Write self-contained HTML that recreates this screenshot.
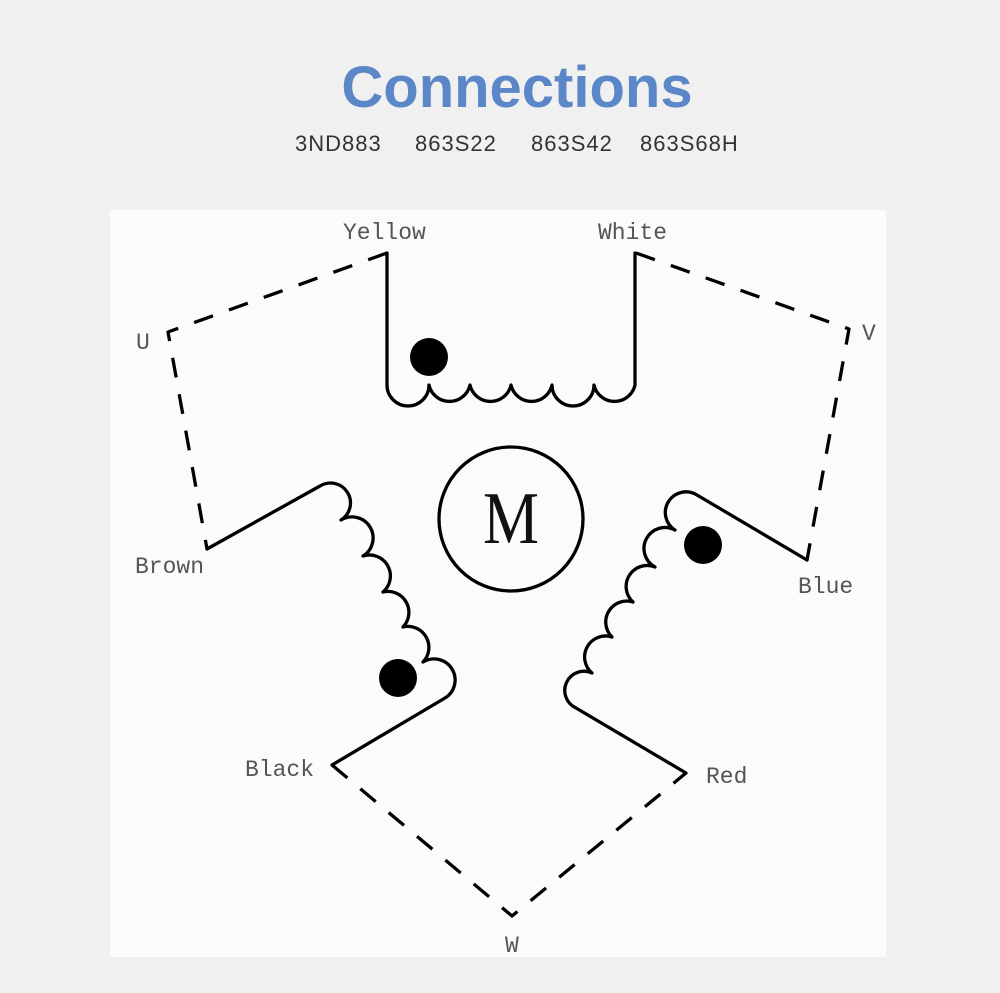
<!DOCTYPE html>
<html><head><meta charset="utf-8"><style>
html,body{margin:0;padding:0;background:#f0f0f0;width:1000px;height:993px;overflow:hidden}
.t{position:absolute;left:0;width:1034px;text-align:center;top:54px;font:bold 58px "Liberation Sans",sans-serif;color:#5b86c8}
.s{position:absolute;top:131px;font:22px "Liberation Sans",sans-serif;letter-spacing:1px;color:#333}
svg{position:absolute;left:0;top:0}
svg text{font-family:"Liberation Mono",monospace;font-size:23px;fill:#555}
</style></head><body>
<div class="t">Connections</div>
<div class="s" style="left:295px">3ND883</div>
<div class="s" style="left:415px">863S22</div>
<div class="s" style="left:531px">863S42</div>
<div class="s" style="left:640px">863S68H</div>
<svg width="1000" height="993">
<rect x="110" y="210" width="776" height="747" fill="#fbfbfb"/>
<g fill="none" stroke="#000" stroke-width="3.3" stroke-linejoin="round" stroke-linecap="round">
<path d="M387 253 V385 A21 21 0 0 0 429 385 A21 21 0 0 0 470 385 A21 21 0 0 0 511 385 A21 21 0 0 0 552 385 A21 21 0 0 0 594 385 A21 21 0 0 0 635 385 V253"/>
<path d="M207 549 L320 486 A19 19 0 0 1 341 520 A21 21 0 0 1 363 556 A21 21 0 0 1 383 592 A21 21 0 0 1 403 627 A21 21 0 0 1 423 662 A19 19 0 0 1 445 698 L332 765"/>
<path d="M686 773 L576 708 A19 19 0 0 1 592 673 A21 21 0 0 1 612 637 A21 21 0 0 1 633 602 A21 21 0 0 1 655 567 A21 21 0 0 1 675 530 A19 19 0 0 1 697 495 L807 560"/>
<g stroke-dasharray="20 17" stroke-linecap="butt">
<path d="M387 253 L168 332 L207 549"/>
<path d="M636 253 L849 329 L807 560"/>
<path d="M332 765 L512 916 L686 773"/>
</g>
<circle cx="511" cy="519" r="72"/>
</g>
<g fill="#000">
<circle cx="429" cy="357" r="19"/>
<circle cx="398" cy="678" r="19"/>
<circle cx="703" cy="545" r="19"/>
</g>
<text x="511" y="543" text-anchor="middle" transform="translate(511 0) scale(0.85 1) translate(-511 0)" style="font-family:'Liberation Serif',serif;font-size:74px;fill:#111">M</text>
<text x="343" y="239">Yellow</text>
<text x="598" y="239">White</text>
<text x="136" y="349">U</text>
<text x="862" y="340">V</text>
<text x="135" y="573">Brown</text>
<text x="798" y="593">Blue</text>
<text x="245" y="776">Black</text>
<text x="706" y="783">Red</text>
<text x="505" y="952">W</text>
</svg>
</body></html>
